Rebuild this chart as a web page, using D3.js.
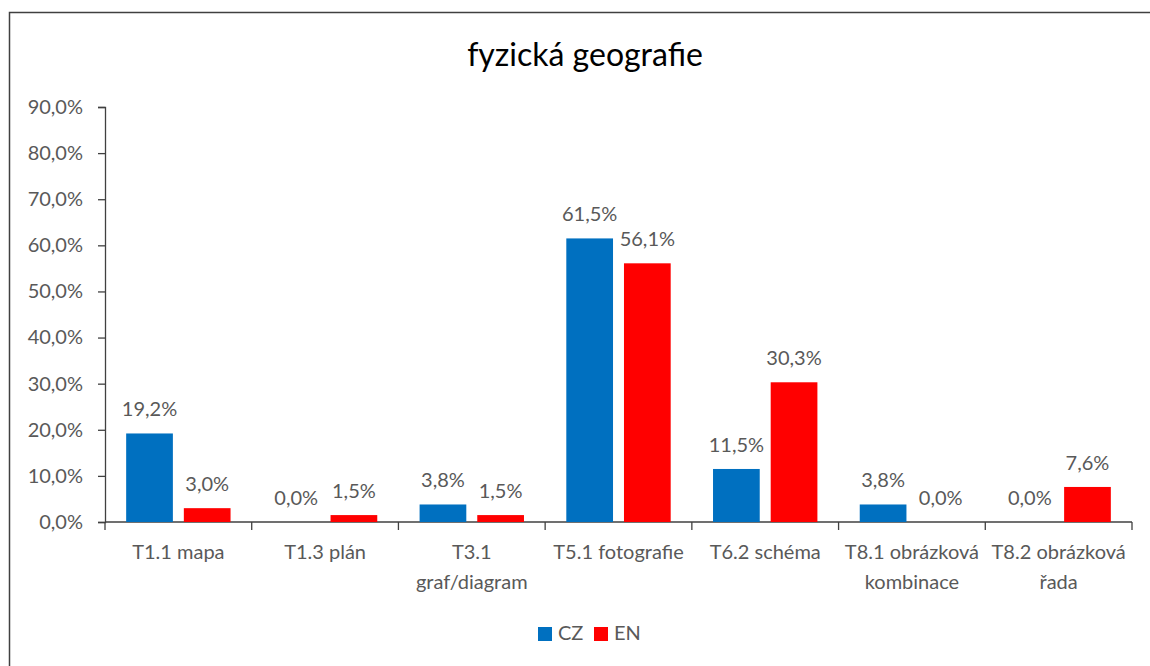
<!DOCTYPE html>
<html>
<head>
<meta charset="utf-8">
<script src="https://cdn.jsdelivr.net/npm/d3@7"></script>
<style>
  html, body { margin: 0; background: #fff; overflow: hidden; }
  svg { display: block; }
  text { font-family: Lato, "Open Sans", sans-serif; fill: #595959; }
</style>
</head>
<body>
<div id="viz"></div>
<script>
const categories = [
    ["T1.1 mapa"],
    ["T1.3 plán"],
    ["T3.1", "graf/diagram"],
    ["T5.1 fotografie"],
    ["T6.2 schéma"],
    ["T8.1 obrázková", "kombinace"],
    ["T8.2 obrázková", "řada"]
];
const seriesNames = ["CZ", "EN"];
const czValues = [19.2, 0.0, 3.8, 61.5, 11.5, 3.8, 0.0];
const enValues = [3.0, 1.5, 1.5, 56.1, 30.3, 0.0, 7.6];
const yTicks = [0, 10, 20, 30, 40, 50, 60, 70, 80, 90];
const colors = ["#0070C0", "#FF0000"];

const width = 1150;
const height = 666;
const margin = { left: 105, right: 18, top: 107, bottom: 144 };

const fmt = v => v.toFixed(1).replace(".", ",") + "%";

const svg = d3.select("#viz").append("svg")
    .attr("width", width)
    .attr("height", height);

// outer frame (only top and left edges are inside the picture)
svg.append("path")
    .attr("d", `M9.5,${height}V12.5H${width}`)
    .attr("fill", "none")
    .attr("stroke", "#404040")
    .attr("stroke-width", 1.5);

svg.append("text")
    .attr("x", 585)
    .attr("y", 66)
    .attr("text-anchor", "middle")
    .style("font-size", "32px")
    .style("fill", "#000")
    .text("fyzická geografie");

const xScale = d3.scaleBand()
    .domain(d3.range(categories.length))
    .range([margin.left, width - margin.right]);

const xInner = d3.scaleBand()
    .domain(seriesNames)
    .range([0, xScale.bandwidth()])
    .paddingInner(0.19)
    .paddingOuter(0.367);

const yScale = d3.scaleLinear()
    .domain([0, 90])
    .range([height - margin.bottom, margin.top]);

// y axis
const yAxis = svg.append("g")
    .attr("transform", `translate(${margin.left},0)`)
    .call(d3.axisLeft(yScale).tickValues(yTicks).tickSize(7).tickPadding(15).tickFormat(fmt));
yAxis.selectAll("path, line").attr("stroke", "#404040").attr("stroke-width", 1.3);
yAxis.selectAll("text").style("font-size", "20px").style("font-family", "Lato, sans-serif").attr("fill", "#595959");

// x axis line and category ticks
const xAxis = svg.append("g")
    .attr("transform", `translate(0,${yScale(0)})`);
xAxis.append("line")
    .attr("x1", margin.left).attr("x2", width - margin.right)
    .attr("stroke", "#404040").attr("stroke-width", 1.3);
xAxis.selectAll(".cat-tick")
    .data(d3.range(categories.length + 1))
    .join("line")
        .attr("class", "cat-tick")
        .attr("x1", i => i < categories.length ? xScale(i) : width - margin.right)
        .attr("x2", i => i < categories.length ? xScale(i) : width - margin.right)
        .attr("y1", 0).attr("y2", 8)
        .attr("stroke", "#404040").attr("stroke-width", 1.3);

const catLabels = xAxis.selectAll(".cat-label")
    .data(categories)
    .join("text")
        .attr("class", "cat-label")
        .attr("text-anchor", "middle")
        .attr("transform", (d, i) => `translate(${xScale(i) + xScale.bandwidth() / 2},37)`)
        .style("font-size", "20px");
catLabels.selectAll("tspan")
    .data(d => d)
    .join("tspan")
        .attr("x", 0)
        .attr("dy", (d, i) => i === 0 ? 0 : 30)
        .text(d => d);

// bars
const rows = categories.map((c, i) => [
    { series: "CZ", value: czValues[i] },
    { series: "EN", value: enValues[i] }
]);

const gCat = svg.selectAll(".cat")
    .data(rows)
    .join("g")
        .attr("class", "cat")
        .attr("transform", (d, i) => `translate(${xScale(i)},0)`);

gCat.selectAll("rect")
    .data(d => d)
    .join("rect")
        .attr("x", d => xInner(d.series))
        .attr("width", xInner.bandwidth())
        .attr("y", d => yScale(d.value))
        .attr("height", d => yScale(0) - yScale(d.value))
        .attr("fill", (d, i) => colors[i]);

gCat.selectAll(".bar-label")
    .data(d => d)
    .join("text")
        .attr("class", "bar-label")
        .attr("text-anchor", "middle")
        .attr("x", d => xInner(d.series) + xInner.bandwidth() / 2)
        .attr("y", d => yScale(d.value) - 17)
        .style("font-size", "20px")
        .text(d => fmt(d.value));

// legend
const legend = svg.append("g")
    .attr("transform", "translate(538,627)");
const legItem = legend.selectAll("g")
    .data(seriesNames)
    .join("g")
        .attr("transform", (d, i) => `translate(${i * 56},0)`);
legItem.append("rect")
    .attr("width", 14).attr("height", 14)
    .attr("fill", (d, i) => colors[i]);
legItem.append("text")
    .attr("x", 20).attr("y", 13)
    .style("font-size", "20px")
    .text(d => d);
</script>
</body>
</html>
